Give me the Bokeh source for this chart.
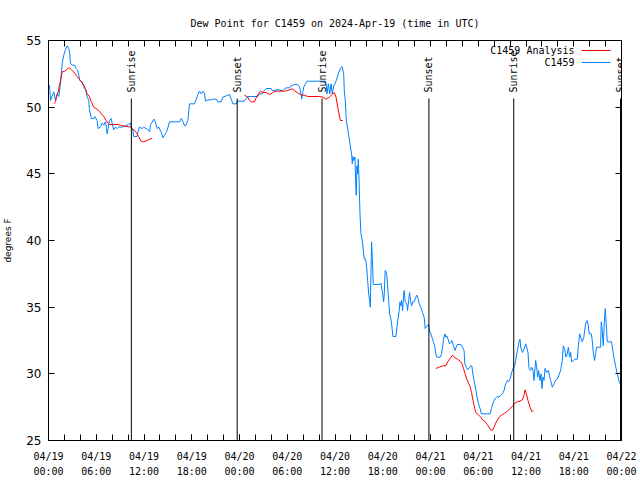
import math
from bokeh.plotting import figure
from bokeh.models import FixedTicker, LinearAxis, Range1d, ColumnDataSource, LabelSet, Label
from bokeh.embed import file_html
from bokeh.resources import INLINE
from bokeh.core.properties import value

NAN = float("nan")

# time axis: hours since 2024-04-19 00:00 UTC
obs_hours = [
    0.13, 0.25, 0.50, 0.66, 0.88, 1.09, 1.29, 1.51, 1.63, 1.72,
    1.92, 2.13, 2.35, 2.55, 2.67, 2.76, 2.97, 3.30, 3.47, 3.64,
    3.80, 3.93, 4.23, 4.35, 4.55, 4.73, 4.85, 5.06, 5.14, 5.39,
    5.68, 5.81, 6.11, 6.23, 6.52, 6.74, 6.94, 7.15, 7.28, 7.36,
    7.49, 7.65, 7.87, 7.99, 8.19, 8.40, 8.62, 8.82, 9.24, 9.66,
    10.07, 10.29, 10.41, 10.57, 10.70, 11.13, 11.25, 11.41, 11.75, 11.95,
    12.26, 12.54, 12.71, 12.83, 13.26, 13.42, 13.64, 13.88, 14.17, 14.39,
    14.59, 14.80, 15.02, 15.22, 16.47, 16.68, 16.90, 17.10, 17.22, 17.52,
    17.72, 18.35, 18.56, 18.78, 18.98, 19.19, 19.41, 19.61, 19.73, 20.03,
    20.45, 20.66, 21.07, 21.29, 21.70, 21.91, 22.33, 22.74, 22.96, 23.17,
    23.58, 23.71, 24.62, 25.05, 25.46, 26.30, 26.51, 26.84, 27.13, 27.35,
    27.97, 28.10, 28.39, 28.60, 29.01, 29.23, 29.44, 29.64, 29.85, 30.27,
    30.48, 30.90, 31.32, 31.52, 31.65, 31.82, 31.95, 32.07, 32.24, 32.49,
    34.75, 34.87, 35.00, 35.16, 35.34, 35.50, 35.66, 35.84, 36.00, 36.16,
    36.42, 36.67, 36.88, 37.09, 37.17, 37.29, 37.42, 37.67, 37.92, 38.10,
    38.17, 38.26, 38.35, 38.51, 38.60, 38.67, 38.76, 38.85, 38.92, 39.01,
    39.14, 39.26, 39.43, 39.60, 39.68, 39.85, 39.98, 40.10, 40.23, 40.35,
    40.43, 40.52, 40.60, 40.73, 40.81, 41.56, 41.77, 41.99, 42.11, 42.19,
    42.31, 42.44, 42.52, 42.69, 42.86, 43.03, 43.11, 43.28, 43.65, 43.87,
    44.07, 44.16, 44.28, 44.37, 44.49, 44.62, 44.69, 44.82, 45.03, 45.12,
    45.25, 45.37, 45.50, 45.62, 45.79, 45.95, 46.16, 46.29, 46.45, 46.58,
    46.79, 47.00, 47.20, 47.33, 47.54, 47.75, 47.88, 48.04, 48.26, 48.38,
    48.55, 48.67, 48.80, 49.21, 49.39, 49.51, 49.64, 49.80, 49.93, 50.05,
    50.21, 50.39, 50.55, 50.68, 50.89, 51.09, 51.22, 51.39, 51.81, 52.02,
    52.22, 52.31, 52.52, 52.65, 52.94, 53.06, 53.19, 53.35, 53.56, 53.81,
    54.03, 54.23, 54.40, 55.48, 55.66, 55.91, 56.20, 56.41, 56.61, 56.82,
    57.04, 57.24, 57.45, 57.67, 57.79, 57.99, 58.20, 58.37, 58.58, 58.70,
    58.92, 59.12, 59.25, 59.33, 59.55, 59.75, 59.96, 60.09, 60.25, 60.38,
    60.59, 60.71, 60.88, 61.00, 61.21, 61.34, 61.47, 61.59, 61.75, 61.88,
    62.01, 62.13, 62.26, 62.39, 62.60, 62.81, 62.93, 63.10, 63.31, 63.51,
    63.72, 63.94, 64.14, 64.35, 64.56, 64.69, 64.85, 65.02, 65.19, 65.32,
    65.48, 65.61, 65.73, 65.94, 66.11, 66.45, 66.57, 66.74, 66.86, 67.07,
    67.27, 67.49, 67.70, 67.83, 67.95, 68.20, 68.33, 68.45, 68.62, 68.74,
    68.87, 69.37, 69.46, 69.58, 69.71, 69.83, 69.96, 70.08, 70.21, 70.75,
    70.91, 71.09, 71.25, 71.47, 71.67, 71.88,
]
obs_dewpt = [
    51.65, 50.5, 50.9, 51.15, 50.5, 51.0, 50.8, 51.8, 52.65, 53.3,
    53.9, 54.3, 54.6, 54.4, 54.0, 53.3, 53.15, 53.15, 52.9, 52.8,
    52.4, 52.0, 51.9, 51.65, 51.4, 51.15, 50.8, 50.5, 49.8, 49.15,
    49.15, 49.3, 49.0, 48.4, 48.5, 48.8, 48.65, 48.9, 48.5, 48.0,
    48.4, 49.0, 49.15, 48.8, 48.3, 48.5, 48.4, 48.5, 48.5, 48.6,
    48.7, 48.8, 48.5, 48.4, 47.8, 47.8, 48.15, 48.5, 48.4, 48.5,
    48.4, 48.3, 48.15, 48.7, 49.1, 48.9, 48.4, 48.5, 48.1, 47.7,
    47.9, 48.1, 48.5, 48.9, 48.9, 49.15, 48.9, 48.6, 48.6, 49.0,
    50.25, 50.25, 50.6, 50.95, 51.2, 51.0, 51.2, 51.0, 50.45, 50.55,
    50.55, 50.6, 50.6, 50.4, 50.4, 50.75, 50.85, 50.95, 50.6, 50.25,
    50.25, 50.45, 50.45, 50.8, 50.8, 50.8, 51.0, 51.0, 51.25, 51.4,
    51.4, 51.25, 51.25, 51.3, 51.3, 51.25, 51.25, 51.35, 51.45, 51.45,
    51.6, 51.7, 51.7, 51.55, 51.25, 50.6, 51.1, 51.5, 51.7, 51.95,
    51.95, 51.75, 51.0, 51.75, 51.0, 51.75, 51.0, 51.6, 51.75, 52.0,
    52.5, 52.9, 53.05, 52.5, 51.25, 50.5, 49.0, 48.1, 47.1, 46.4,
    45.75, 46.3, 46.0, 46.25, 44.25, 43.4, 45.6, 45.0, 46.1, 44.8,
    42.0, 40.5, 40.0, 39.0, 38.6, 38.6, 38.0, 37.0, 36.0, 35.5,
    35.0, 37.5, 39.9, 38.0, 36.7, 36.7, 36.8, 36.0, 35.4, 36.0,
    37.75, 37.6, 37.35, 35.9, 34.5, 34.1, 33.75, 32.8, 32.8, 33.9,
    34.75, 35.4, 35.1, 35.5, 34.75, 35.9, 36.25, 35.4, 35.25, 34.75,
    35.5, 36.1, 35.5, 35.1, 35.4, 35.4, 35.75, 35.9, 35.6, 35.25,
    35.0, 34.6, 34.25, 33.4, 33.6, 33.7, 33.25, 33.0, 32.6, 32.35,
    32.0, 31.5, 31.25, 31.25, 31.5, 32.0, 32.6, 33.0, 32.75, 32.85,
    32.6, 32.25, 32.35, 32.5, 32.1, 31.75, 32.0, 32.2, 32.2, 32.0,
    31.75, 30.75, 30.5, 30.3, 30.5, 30.6, 30.6, 29.9, 29.25, 28.4,
    27.75, 27.4, 27.0, 27.0, 27.4, 27.9, 28.2, 28.3, 28.25, 28.4,
    28.5, 28.75, 29.25, 29.5, 29.4, 29.6, 30.1, 30.4, 30.6, 31.0,
    31.75, 32.4, 32.6, 32.0, 31.6, 31.85, 32.25, 32.0, 31.6, 30.4,
    30.25, 30.5, 30.25, 29.5, 31.0, 30.5, 29.75, 30.25, 29.5, 30.0,
    28.9, 29.75, 29.5, 30.4, 30.1, 30.25, 29.9, 29.5, 29.0, 29.25,
    29.5, 29.6, 29.9, 30.25, 31.0, 32.1, 31.9, 31.25, 31.5, 32.0,
    31.25, 31.6, 30.9, 31.0, 31.1, 31.1, 32.0, 33.0, 32.75, 32.4,
    32.75, 33.75, 34.0, 33.6, 33.0, 33.0, 32.5, 31.6, 31.0, 31.5,
    32.0, 32.0, 33.9, 33.25, 32.1, 33.75, 34.9, 33.75, 32.4, 32.4,
    31.75, 31.1, 30.6, 30.0, 29.5, 29.2,
]

# analysis series (NaN separates the three runs)
ana_hours = [
    0.66, 0.88, 1.00, 1.22, 1.38, 1.51, 1.72, 2.04, 2.26, 2.47,
    2.63, 2.89, 3.17, 3.47, 3.80, 4.14, 4.43, 4.64, 4.85, 5.14,
    5.39, 5.68, 5.98, 6.31, 6.65, 6.94, 7.24, 7.49, 7.69, 8.19,
    8.62, 9.03, 9.45, 9.87, 10.29, 10.57, 10.91, 11.13, 11.33, 11.63,
    11.95, 12.38, 12.71, 13.01, NAN,
    24.62, 25.05, 25.25, 25.46, 25.88, 26.09, 26.38, 26.63, 26.93, 27.35,
    27.76, 28.10, 28.47, 29.64, 30.07, 30.48, 30.70, 30.90, 31.23, 31.52,
    31.82, 32.15, 32.58, 34.03, 34.46, 34.87, 35.29, 35.71, 35.91, 36.13,
    36.34, 36.54, 36.67, 36.97, NAN,
    48.67, 49.09, 49.51, 49.93, 50.21, 50.46, 50.77, 51.06, 51.39, 51.72,
    51.93, 52.15, 52.35, 52.56, 52.77, 52.97, 53.15, 53.35, 53.56, 53.69,
    53.98, 54.32, 54.53, 54.73, 55.07, 55.36, 55.57, 55.78, 55.98, 56.20,
    56.41, 56.70, 57.04, 57.33, 57.67, 57.99, 58.29, 58.58, 58.92, 59.25,
    59.55, 59.75, 59.88, 60.05, 60.25, 60.50, 60.71, 60.93,
]
ana_dewpt = [
    50.25, 50.4, 50.8, 51.15, 51.65, 52.0, 52.65, 52.7, 52.8, 52.9,
    52.95, 52.8, 52.65, 52.4, 52.15, 51.9, 51.65, 51.4, 51.0, 50.8,
    50.4, 50.0, 49.9, 49.75, 49.5, 49.3, 49.0, 48.8, 48.7, 48.7,
    48.7, 48.65, 48.6, 48.55, 48.5, 48.35, 48.2, 48.0, 47.8, 47.45,
    47.4, 47.5, 47.6, 47.65, NAN,
    50.9, 50.75, 50.5, 50.4, 50.4, 50.7, 51.0, 51.2, 51.1, 51.1,
    50.95, 51.05, 51.2, 51.2, 51.25, 51.35, 51.35, 51.25, 51.1, 51.0,
    50.9, 50.9, 50.8, 50.8, 50.75, 50.6, 50.75, 51.0, 51.1, 50.75,
    50.0, 49.4, 49.0, 49.0, NAN,
    30.4, 30.5, 30.6, 30.6, 30.95, 31.15, 31.4, 31.2, 31.1, 30.95,
    30.8, 30.4, 30.0, 29.6, 29.3, 29.05, 28.6, 28.0, 27.4, 27.1,
    26.95, 26.75, 26.55, 26.5, 26.25, 26.0, 25.8, 25.75, 26.0, 26.3,
    26.55, 26.8, 26.95, 27.05, 27.2, 27.4, 27.55, 27.8, 27.9, 27.95,
    28.05, 28.4, 28.8, 28.5, 28.0, 27.5, 27.2, 27.2,
]

sun_hours = [10.41, 23.71, 34.37, 47.80, 58.46, 71.88]
sun_labels = ["Sunrise", "Sunset", "Sunrise", "Sunset", "Sunrise", "Sunset"]

x_tick_hours = [0, 6, 12, 18, 24, 30, 36, 42, 48, 54, 60, 66, 72]
x_tick_labels = ["04/19\n00:00", "04/19\n06:00", "04/19\n12:00", "04/19\n18:00",
                 "04/20\n00:00", "04/20\n06:00", "04/20\n12:00", "04/20\n18:00",
                 "04/21\n00:00", "04/21\n06:00", "04/21\n12:00", "04/21\n18:00",
                 "04/22\n00:00"]
x_minor_hours = list(range(0, 73, 2))
y_ticks = [25, 30, 35, 40, 45, 50, 55]

RED = "#ff0000"
BLUE = "#0080ff"
MONO = "DejaVu Sans Mono"
SANS = "DejaVu Sans"

p = figure(width=640, height=480, x_range=Range1d(0, 72), y_range=Range1d(25, 55),
           output_backend="svg", toolbar_location=None,
           title="Dew Point for C1459 on 2024-Apr-19 (time in UTC)",
           min_border_left=47, min_border_right=19, min_border_top=40, min_border_bottom=40)
p.grid.visible = False
p.outline_line_color = "black"
p.outline_line_width = 1
p.background_fill_color = "white"
p.border_fill_color = "white"
p.title.align = "center"
p.title.text_font = MONO
p.title.text_font_size = "10px"
p.title.text_font_style = "normal"
p.title.text_color = "black"
p.title.standoff = 24

xa = p.xaxis[0]
xa.ticker = FixedTicker(ticks=x_tick_hours, minor_ticks=x_minor_hours)
xa.major_label_overrides = {h: lab for h, lab in zip(x_tick_hours, x_tick_labels)}
xa.major_label_text_font = MONO
xa.major_label_text_font_size = "10px"
xa.major_label_text_line_height = 1.4
xa.major_label_standoff = 10

ya = p.yaxis[0]
ya.ticker = FixedTicker(ticks=y_ticks)
ya.axis_label = "degrees F"
ya.axis_label_text_font = SANS
ya.axis_label_text_font_size = "9px"
ya.axis_label_text_font_style = "normal"
ya.axis_label_text_color = "black"
ya.axis_label_standoff = 10
ya.major_label_text_font = SANS
ya.major_label_text_font_size = "12px"
ya.major_label_standoff = 7
ya.minor_tick_line_color = None

# mirrored ticks on top and right (drawn as unlabeled minor ticks)
top = LinearAxis(ticker=FixedTicker(ticks=[], minor_ticks=x_minor_hours))
right = LinearAxis(ticker=FixedTicker(ticks=[], minor_ticks=y_ticks))
p.add_layout(top, "above")
p.add_layout(right, "right")

for ax in (xa, ya, top, right):
    ax.axis_line_color = "black"
    ax.major_tick_in = 6
    ax.major_tick_out = 0
    ax.minor_tick_in = 6
    ax.minor_tick_out = 0
    ax.major_label_text_color = "black"
for ax in (top, right):
    ax.minor_tick_line_color = "black"

# observations and analysis
p.line(obs_hours, obs_dewpt, line_color=BLUE, line_width=1)
p.line(ana_hours, ana_dewpt, line_color=RED, line_width=1)

# sunrise / sunset markers
sun_src = ColumnDataSource(dict(x=sun_hours, text=sun_labels))
p.segment(x0="x", y0=25, x1="x", y1=50.65, source=sun_src, line_color="black", line_width=1)
p.add_layout(LabelSet(x="x", y=51.1, text="text", source=sun_src, angle=math.pi / 2,
                      text_align="left", text_baseline="middle",
                      text_font=value(MONO), text_font_size="10px", text_color="black"))

# gnuplot-style key (text, then sample line)
key_names = ["C1459 Analysis", "C1459"]
key_colors = [RED, BLUE]
key_rows = [54.25, 53.35]
for name, col, yk in zip(key_names, key_colors, key_rows):
    p.add_layout(Label(x=66.1, y=yk, text=name, text_align="right", text_baseline="middle",
                       text_font=MONO, text_font_size="10px", text_color="black"))
    p.segment(x0=[66.98], y0=[yk], x1=[70.62], y1=[yk], line_color=col, line_width=1)

open("out.html", "w").write(file_html(p, INLINE))
